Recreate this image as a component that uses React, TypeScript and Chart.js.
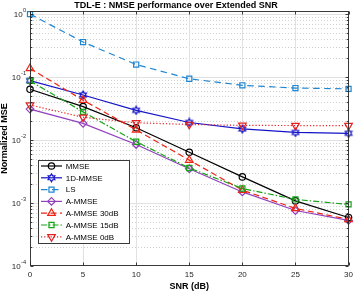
import React, { useEffect, useRef } from 'react';
import { Chart, registerables } from 'chart.js';

Chart.register(...registerables);

// ---- data ----
const snr = [0, 5, 10, 15, 20, 25, 30];
const mmse = [0.064, 0.034, 0.0157, 0.0064, 0.0026, 0.00108, 0.00059];
const oneDMmse = [0.088, 0.052, 0.0296, 0.019, 0.015, 0.0132, 0.0128];
const ls = [1.0, 0.36, 0.158, 0.094, 0.074, 0.067, 0.065];
const aMmse = [0.031, 0.0184, 0.0085, 0.0035, 0.0015, 0.00076, 0.00053];
const aMmse30 = [0.137, 0.043, 0.0145, 0.0048, 0.0016, 0.00082, 0.00055];
const aMmse15 = [0.087, 0.028, 0.0094, 0.0036, 0.0017, 0.00114, 0.00095];
const aMmse0 = [0.036, 0.023, 0.0188, 0.0177, 0.0171, 0.017, 0.017];
const seriesNames = ['MMSE', '1D-MMSE', 'LS', 'A-MMSE', 'A-MMSE 30dB', 'A-MMSE 15dB', 'A-MMSE 0dB'];
const xTicks = [0, 5, 10, 15, 20, 25, 30];
const yDecades = [-4, -3, -2, -1, 0];
const titleText = 'TDL-E : NMSE performance over Extended SNR';
const xTitle = 'SNR (dB)';
const yTitle = 'Normalized MSE';

// ---- styles ----
const FONT = '"Liberation Sans", Arial, Helvetica, sans-serif';
const W = 357;
const H = 291;
const HEX_R = 3.9;

type Sty = { color: string; dash: number[]; marker: string; radius: number; rotation?: number };
const styles: Sty[] = [
  { color: '#000000', dash: [], marker: 'circle', radius: 3.2 },
  { color: '#1414c8', dash: [], marker: 'hexagram', radius: 4 },
  { color: '#1f86d2', dash: [6.5, 4.5], marker: 'rect', radius: 3.6 },
  { color: '#9140bc', dash: [], marker: 'rectRot', radius: 3.8 },
  { color: '#ee2414', dash: [6, 3.5], marker: 'triangle', radius: 4.4 },
  { color: '#16a316', dash: [6, 2, 1.5, 2], marker: 'rect', radius: 3.6 },
  { color: '#e42020', dash: [1.2, 2], marker: 'triangle', radius: 4.4, rotation: 180 },
];
const allSeries = [mmse, oneDMmse, ls, aMmse, aMmse30, aMmse15, aMmse0];

function makeHexagram(color: string): HTMLCanvasElement {
  const c = document.createElement('canvas');
  c.width = 10;
  c.height = 10;
  const g = c.getContext('2d')!;
  drawHex(g, 5, 5, HEX_R, color);
  return c;
}

function drawHex(g: CanvasRenderingContext2D, cx: number, cy: number, r: number, color: string) {
  const ri = r / Math.sqrt(3);
  g.beginPath();
  for (let k = 0; k < 12; k++) {
    const ang = -Math.PI / 2 + (k * Math.PI) / 6;
    const rr = k % 2 === 0 ? r : ri;
    const px = cx + rr * Math.cos(ang);
    const py = cy + rr * Math.sin(ang);
    if (k === 0) g.moveTo(px, py);
    else g.lineTo(px, py);
  }
  g.closePath();
  g.strokeStyle = color;
  g.lineWidth = 1.2;
  g.stroke();
}

function drawMarker(g: CanvasRenderingContext2D, s: Sty, x: number, y: number) {
  if (s.marker === 'hexagram') {
    drawHex(g, x, y, HEX_R, s.color);
    return;
  }
  g.save();
  g.setLineDash([]);
  g.strokeStyle = s.color;
  g.lineWidth = 1.2;
  g.beginPath();
  const r = s.radius;
  if (s.marker === 'circle') {
    g.arc(x, y, r, 0, Math.PI * 2);
  } else if (s.marker === 'rect') {
    const h = r * Math.SQRT1_2;
    g.rect(x - h, y - h, 2 * h, 2 * h);
  } else if (s.marker === 'rectRot') {
    g.moveTo(x, y - r);
    g.lineTo(x + r, y);
    g.lineTo(x, y + r);
    g.lineTo(x - r, y);
    g.closePath();
  } else if (s.marker === 'triangle') {
    const rot = ((s.rotation || 0) * Math.PI) / 180;
    for (let k = 0; k < 3; k++) {
      const a = rot + (k * 2 * Math.PI) / 3;
      const px = x + Math.sin(a) * r;
      const py = y - Math.cos(a) * r;
      if (k === 0) g.moveTo(px, py);
      else g.lineTo(px, py);
    }
    g.closePath();
  }
  g.stroke();
  g.restore();
}

const decor = {
  id: 'decor',
  beforeDatasetsDraw(chart: any) {
    const { ctx, chartArea: a, scales } = chart;
    const y = scales.y;
    const x = scales.x;
    ctx.save();
    // minor dotted grid
    ctx.strokeStyle = '#c4c4c4';
    ctx.lineWidth = 0.8;
    ctx.setLineDash([1, 2]);
    for (const d of yDecades) {
      for (let k = 2; k <= 9; k++) {
        const v = k * Math.pow(10, d);
        const py = y.getPixelForValue(v);
        if (py < a.top || py > a.bottom) continue;
        const yy = Math.round(py) + 0.5;
        ctx.beginPath();
        ctx.moveTo(a.left, yy);
        ctx.lineTo(a.right, yy);
        ctx.stroke();
      }
    }
    ctx.setLineDash([]);
    ctx.strokeStyle = '#e2e2e2';
    ctx.lineWidth = 1;
    for (const d of yDecades) {
      const py = y.getPixelForValue(Math.pow(10, d));
      if (py < a.top || py >= a.bottom - 1) continue;
      const yy = Math.round(py) + 0.5;
      ctx.beginPath();
      ctx.moveTo(a.left, yy);
      ctx.lineTo(a.right, yy);
      ctx.stroke();
    }
    for (const t of xTicks) {
      const px = x.getPixelForValue(t);
      if (px <= a.left + 1 || px >= a.right - 1) continue;
      const xx = Math.round(px) + 0.5;
      ctx.beginPath();
      ctx.moveTo(xx, a.top);
      ctx.lineTo(xx, a.bottom);
      ctx.stroke();
    }
    ctx.restore();
  },
  afterDatasetsDraw(chart: any) {
    const { ctx, chartArea: a, scales } = chart;
    const y = scales.y;
    const x = scales.x;
    ctx.save();
    // box
    ctx.strokeStyle = '#262626';
    ctx.lineWidth = 0.9;
    ctx.setLineDash([]);
    const L = Math.round(a.left) + 0.5;
    const R = Math.round(a.right) - 0.5;
    const T = Math.round(a.top) + 0.5;
    const B = Math.round(a.bottom) - 0.5;
    ctx.strokeRect(L, T, R - L, B - T);
    // ticks
    ctx.beginPath();
    for (const t of xTicks) {
      const xx = Math.round(x.getPixelForValue(t)) + 0.5;
      ctx.moveTo(xx, B);
      ctx.lineTo(xx, B - 3);
      ctx.moveTo(xx, T);
      ctx.lineTo(xx, T + 3);
    }
    for (const d of yDecades) {
      for (let k = 1; k <= 9; k++) {
        const v = k * Math.pow(10, d);
        const py = y.getPixelForValue(v);
        if (py < a.top || py > a.bottom) continue;
        const yy = Math.round(py) + 0.5;
        const len = k === 1 ? 3 : 1.8;
        ctx.moveTo(L, yy);
        ctx.lineTo(L + len, yy);
        ctx.moveTo(R, yy);
        ctx.lineTo(R - len, yy);
      }
    }
    ctx.stroke();
    // y tick labels 10^n
    ctx.fillStyle = '#262626';
    ctx.textAlign = 'right';
    ctx.textBaseline = 'middle';
    for (const d of yDecades) {
      const py = y.getPixelForValue(Math.pow(10, d));
      const exp = d === 0 ? '0' : '-' + Math.abs(d);
      ctx.font = `5.6px ${FONT}`;
      const ew = ctx.measureText(exp).width;
      ctx.fillText(exp, 26, py - 3.2);
      ctx.font = `8px ${FONT}`;
      ctx.fillText('10', 26 - ew - 0.3, py + 0.5);
    }
    // legend
    const bx = 38.5, by = 160.5, bw = 91, bh = 83;
    ctx.fillStyle = '#ffffff';
    ctx.fillRect(bx, by, bw, bh);
    ctx.strokeStyle = '#3a3a3a';
    ctx.lineWidth = 1;
    ctx.strokeRect(bx, by, bw, bh);
    ctx.font = `8px ${FONT}`;
    ctx.textAlign = 'left';
    ctx.textBaseline = 'middle';
    seriesNames.forEach((name, i) => {
      const s = styles[i];
      const ry = 166 + i * 11.8;
      ctx.strokeStyle = s.color;
      ctx.lineWidth = 1.2;
      ctx.setLineDash(s.dash);
      ctx.beginPath();
      ctx.moveTo(41, ry);
      ctx.lineTo(62, ry);
      ctx.stroke();
      ctx.setLineDash([]);
      drawMarker(ctx, s, 51.5, ry);
      ctx.fillStyle = '#000000';
      ctx.fillText(name, 65.7, ry + 0.5);
    });
    ctx.restore();
  },
};

export default function App() {
  const ref = useRef<HTMLCanvasElement | null>(null);
  useEffect(() => {
    document.body.style.margin = '0';
    const canvas = ref.current!;
    const hex = makeHexagram(styles[1].color);
    const datasets = allSeries.map((vals, i) => {
      const s = styles[i];
      return {
        label: seriesNames[i],
        data: snr.map((xv, j) => ({ x: xv, y: vals[j] })),
        borderColor: s.color,
        backgroundColor: 'rgba(0,0,0,0)',
        borderWidth: 1.2,
        borderDash: s.dash,
        pointStyle: s.marker === 'hexagram' ? hex : s.marker,
        pointRadius: s.radius,
        pointRotation: s.rotation || 0,
        pointBorderColor: s.color,
        pointBackgroundColor: 'rgba(0,0,0,0)',
        pointBorderWidth: 1.2,
        tension: 0,
        fill: false,
        order: allSeries.length - i,
        clip: false as any,
      };
    });
    const chart = new Chart(canvas, {
      type: 'line',
      data: { datasets },
      plugins: [decor],
      options: {
        responsive: false,
        animation: false,
        devicePixelRatio: 1,
        layout: { padding: { left: 0, right: 5, top: 0, bottom: 0 } },
        plugins: {
          legend: { display: false },
          tooltip: { enabled: false },
          title: {
            display: true,
            text: titleText,
            color: '#000000',
            font: { family: FONT, size: 9, weight: 'bold', lineHeight: '11px' },
            padding: 0,
          },
        },
        scales: {
          x: {
            type: 'linear',
            min: 0,
            max: 30,
            afterBuildTicks: (s: any) => {
              s.ticks = xTicks.map((v) => ({ value: v }));
            },
            afterFit: (s: any) => {
              s.height = 25;
            },
            ticks: {
              font: { family: FONT, size: 8 },
              color: '#262626',
              padding: 4,
              maxRotation: 0,
              autoSkip: false,
            },
            grid: { display: false, drawTicks: false },
            border: { display: false },
            title: {
              display: true,
              text: xTitle,
              color: '#000000',
              font: { family: FONT, size: 9, weight: 'bold', lineHeight: '9px' },
              padding: 0,
            },
          },
          y: {
            type: 'logarithmic',
            min: 1e-4,
            max: 1.12,
            afterFit: (s: any) => {
              s.width = 30;
            },
            ticks: { display: false },
            grid: { display: false, drawTicks: false },
            border: { display: false },
            title: {
              display: true,
              text: yTitle,
              color: '#000000',
              font: { family: FONT, size: 9, weight: 'bold', lineHeight: '9px' },
              padding: 0,
            },
          },
        },
      } as any,
    });
    return () => chart.destroy();
  }, []);
  return (
    <div style={{ width: W, height: H }}>
      <canvas ref={ref} width={W} height={H} style={{ width: W, height: H, display: 'block' }} />
    </div>
  );
}
